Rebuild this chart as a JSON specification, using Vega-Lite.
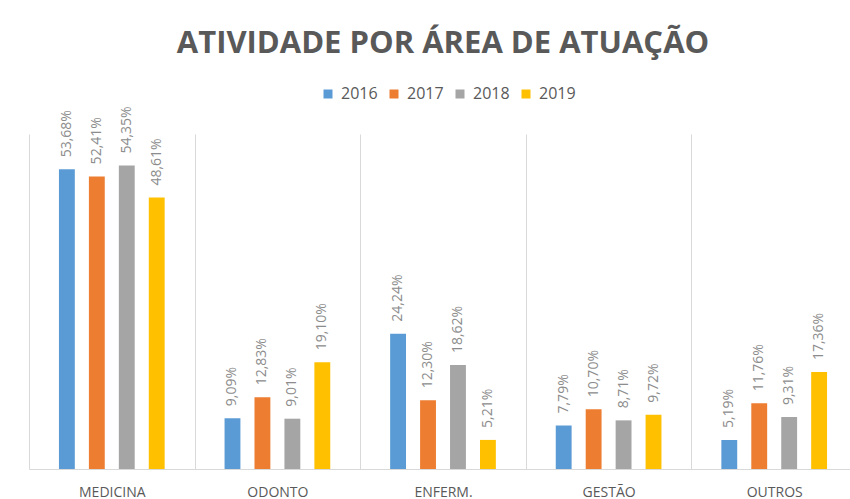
{
  "$schema": "https://vega.github.io/schema/vega-lite/v6.json",
  "width": 828,
  "height": 335,
  "autosize": {"type": "none"},
  "padding": {"left": 29, "top": 134, "right": 0, "bottom": 30},
  "background": "white",
  "config": {
    "view": {"stroke": null},
    "locale": {"number": {"decimal": ",", "thousands": ".", "grouping": [3], "currency": ["R$", ""]}},
    "font": "Open Sans"
  },
  "title": {
    "text": "ATIVIDADE POR ÁREA DE ATUAÇÃO",
    "font": "Open Sans",
    "fontSize": 31,
    "fontWeight": "bold",
    "color": "#595959",
    "anchor": "middle",
    "offset": 26
  },
  "data": {
    "values": [
      {"area": "MEDICINA", "ano": "2016", "valor": 0.5368},
      {"area": "MEDICINA", "ano": "2017", "valor": 0.5241},
      {"area": "MEDICINA", "ano": "2018", "valor": 0.5435},
      {"area": "MEDICINA", "ano": "2019", "valor": 0.4861},
      {"area": "ODONTO", "ano": "2016", "valor": 0.0909},
      {"area": "ODONTO", "ano": "2017", "valor": 0.1283},
      {"area": "ODONTO", "ano": "2018", "valor": 0.0901},
      {"area": "ODONTO", "ano": "2019", "valor": 0.1910},
      {"area": "ENFERM.", "ano": "2016", "valor": 0.2424},
      {"area": "ENFERM.", "ano": "2017", "valor": 0.1230},
      {"area": "ENFERM.", "ano": "2018", "valor": 0.1862},
      {"area": "ENFERM.", "ano": "2019", "valor": 0.0521},
      {"area": "GESTÃO", "ano": "2016", "valor": 0.0779},
      {"area": "GESTÃO", "ano": "2017", "valor": 0.1070},
      {"area": "GESTÃO", "ano": "2018", "valor": 0.0871},
      {"area": "GESTÃO", "ano": "2019", "valor": 0.0972},
      {"area": "OUTROS", "ano": "2016", "valor": 0.0519},
      {"area": "OUTROS", "ano": "2017", "valor": 0.1176},
      {"area": "OUTROS", "ano": "2018", "valor": 0.0931},
      {"area": "OUTROS", "ano": "2019", "valor": 0.1736}
    ]
  },
  "encoding": {
    "x": {
      "field": "area",
      "type": "nominal",
      "sort": null,
      "scale": {"paddingInner": 0, "paddingOuter": 0},
      "axis": {
        "title": null,
        "labelAngle": 0,
        "labelFont": "Open Sans",
        "labelFontSize": 14,
        "labelColor": "#595959",
        "labelPadding": 16,
        "ticks": false,
        "grid": true,
        "tickBand": "extent",
        "gridColor": "#d9d9d9",
        "gridWidth": 1,
        "domainColor": "#d9d9d9",
        "domainWidth": 1
      }
    },
    "xOffset": {
      "field": "ano",
      "type": "nominal",
      "scale": {"paddingInner": 0.47, "paddingOuter": 1.2}
    },
    "y": {
      "field": "valor",
      "type": "quantitative",
      "scale": {"domain": [0, 0.6], "nice": false},
      "axis": null
    }
  },
  "layer": [
    {
      "mark": {"type": "bar"},
      "encoding": {
        "color": {
          "field": "ano",
          "type": "nominal",
          "scale": {"domain": ["2016", "2017", "2018", "2019"], "range": ["#5B9BD5", "#ED7D31", "#A5A5A5", "#FFC000"]},
          "legend": {
            "title": null,
            "orient": "none",
            "direction": "horizontal",
            "legendX": 291,
            "legendY": -48,
            "padding": 0,
            "symbolType": "square",
            "symbolSize": 81,
            "symbolStrokeWidth": 0,
            "labelFont": "Open Sans",
            "labelFontSize": 16,
            "labelColor": "#595959",
            "labelOffset": 5,
            "columnPadding": 8
          }
        }
      }
    },
    {
      "mark": {
        "type": "text",
        "angle": 270,
        "align": "left",
        "baseline": "middle",
        "dx": 12,
        "font": "Open Sans",
        "fontSize": 14,
        "color": "#8c8c8c"
      },
      "encoding": {
        "text": {"field": "valor", "type": "quantitative", "format": ".2%"}
      }
    }
  ]
}
